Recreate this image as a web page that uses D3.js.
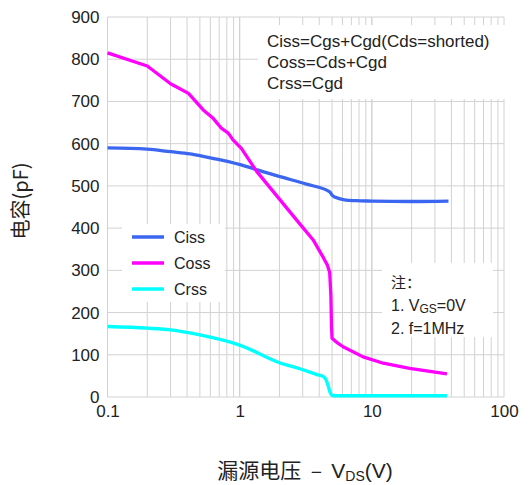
<!DOCTYPE html>
<html lang="zh">
<head>
  <meta charset="UTF-8">
  <title>电容 vs 漏源电压</title>
  <style>
    body { margin: 0; background: #fff; }
    svg { display: block; font-family: "Liberation Sans", Arial, sans-serif; }
    .tick text { fill: #222; font-size: 17px; }
    .domain { display: none; }
  </style>
</head>
<body>
  <svg id="chart" width="530" height="485"></svg>

  <script src="https://d3js.org/d3.v7.min.js"></script>
  <script>
    // data (V in volts, C in pF)
    const cissV = [0.1, 0.2, 0.3, 0.42, 0.53, 0.73, 1.1, 1.42, 2.13, 3.2, 4.8, 5.0, 5.3, 6.2, 7.6, 10, 20, 38];
    const cissC = [590, 587, 581, 576, 570, 561, 547, 536, 520, 504, 486, 478, 473, 467, 465, 464, 463, 464];

    const cossV = [0.1, 0.2, 0.3, 0.41, 0.53, 0.63, 0.73, 0.82, 0.89, 1.03, 1.34, 2.7, 3.6, 4.3, 4.6, 4.8, 4.9, 4.95, 5.0, 5.5, 6.06, 8.6, 12.2, 19.3, 37];
    const cossC = [815, 784, 742, 719, 680, 660, 636, 625, 609, 589, 535, 419, 372, 330, 313, 295, 240, 170, 139, 128, 119, 95, 80, 68, 55];

    const crssV = [0.1, 0.2, 0.3, 0.5, 1, 2.05, 2.85, 3.84, 4.3, 4.5, 4.7, 4.85, 5.1, 10, 20, 37];
    const crssC = [167, 163, 159, 147, 123, 80, 67, 53, 48, 41, 24, 10, 3, 3, 3, 3];

    const seriesNames = ["Ciss", "Coss", "Crss"];
    const seriesColors = ["#3a66f0", "#ff00ff", "#00ffff"];
    const yTicks = [0, 100, 200, 300, 400, 500, 600, 700, 800, 900];
    const xTicks = [0.1, 1, 10, 100];
    const formulaLines = ["Ciss=Cgs+Cgd(Cds=shorted)", "Coss=Cds+Cgd", "Crss=Cgd"];

    const svg = d3.select("#chart");
    const plotL = 107.5, plotR = 504, plotT = 17, plotB = 397;

    const x = d3.scaleLog().domain([0.1, 100]).range([plotL, plotR]);
    const y = d3.scaleLinear().domain([0, 900]).range([plotB, plotT]);

    // grid
    const minor = [];
    [0.1, 1, 10].forEach(d => { for (let k = 1; k <= 10; k++) minor.push(d * k); });
    const grid = svg.append("g").attr("stroke", "#d2d2d2").attr("stroke-width", 1);
    grid.selectAll("line.v").data(minor).enter().append("line")
      .attr("x1", d => x(d)).attr("x2", d => x(d))
      .attr("y1", plotT).attr("y2", plotB);
    grid.selectAll("line.h").data(yTicks).enter().append("line")
      .attr("x1", plotL).attr("x2", plotR)
      .attr("y1", d => y(d)).attr("y2", d => y(d));

    // axes
    svg.append("g")
      .attr("transform", `translate(${plotL},0)`)
      .call(d3.axisLeft(y).tickValues(yTicks).tickSize(0).tickPadding(8));

    svg.append("g")
      .attr("transform", `translate(0,${plotB})`)
      .call(d3.axisBottom(x).tickValues(xTicks).tickSize(0).tickPadding(8)
        .tickFormat(d => String(d)));

    // boxes for notes
    svg.append("rect").attr("x", 258).attr("y", 25).attr("width", 247).attr("height", 74).attr("fill", "#fff");
    svg.append("rect").attr("x", 122).attr("y", 224).attr("width", 103).attr("height", 78).attr("fill", "#fff");
    svg.append("rect").attr("x", 382).attr("y", 263).attr("width", 111).attr("height", 74).attr("fill", "#fff");

    // curves (Coss looks piecewise, the other two smooth)
    const smooth = d3.line().x(d => x(d[0])).y(d => y(d[1])).curve(d3.curveMonotoneX);
    const straight = d3.line().x(d => x(d[0])).y(d => y(d[1]));
    const series = [
      d3.zip(cissV, cissC),
      d3.zip(cossV, cossC),
      d3.zip(crssV, crssC)
    ];
    svg.append("g").selectAll("path").data(series).enter().append("path")
      .attr("d", (d, i) => i === 1 ? straight(d) : smooth(d))
      .attr("fill", "none")
      .attr("stroke", (d, i) => seriesColors[i])
      .attr("stroke-width", 3.3)
      .attr("stroke-linejoin", "round");

    // formula text
    svg.append("g").selectAll("text").data(formulaLines).enter().append("text")
      .attr("x", 267).attr("y", (d, i) => 47 + i * 21)
      .attr("font-size", 17).attr("fill", "#222")
      .text(d => d);

    // legend
    const lg = svg.append("g").selectAll("g").data(seriesNames).enter().append("g")
      .attr("transform", (d, i) => `translate(0,${237 + i * 26})`);
    lg.append("line").attr("x1", 132).attr("x2", 164)
      .attr("stroke", (d, i) => seriesColors[i]).attr("stroke-width", 3.5);
    lg.append("text").attr("x", 174).attr("y", 6)
      .attr("font-size", 16).attr("fill", "#222").text(d => d);

    // notes
    const note = svg.append("g").attr("fill", "#222").attr("font-size", 16);
    note.append("text").attr("x", 391).attr("y", 288)
      .attr("font-family", "'Noto Sans CJK SC', sans-serif").attr("font-size", 15).text("注：");
    const n1 = note.append("text").attr("x", 391).attr("y", 311);
    n1.append("tspan").text("1. V");
    n1.append("tspan").attr("font-size", 12).attr("dy", 2).text("GS");
    n1.append("tspan").attr("dy", -2).text("=0V");
    note.append("text").attr("x", 391).attr("y", 334).text("2. f=1MHz");

    // axis titles
    const xt = svg.append("text").attr("x", 305).attr("y", 478)
      .attr("text-anchor", "middle").attr("font-size", 21).attr("fill", "#222")
      .attr("xml:space", "preserve");
    xt.append("tspan").attr("font-family", "'Noto Sans CJK SC', sans-serif").text("漏源电压  –  ");
    xt.append("tspan").text("V");
    xt.append("tspan").attr("font-size", 14).attr("dy", 3).text("DS");
    xt.append("tspan").attr("dy", -3).text("(V)");

    svg.append("text")
      .attr("transform", "translate(28,201) rotate(-90)")
      .attr("text-anchor", "middle").attr("font-size", 20).attr("fill", "#222")
      .attr("font-family", "'Noto Sans CJK SC', sans-serif")
      .text("电容(pF)");
  </script>
</body>
</html>
